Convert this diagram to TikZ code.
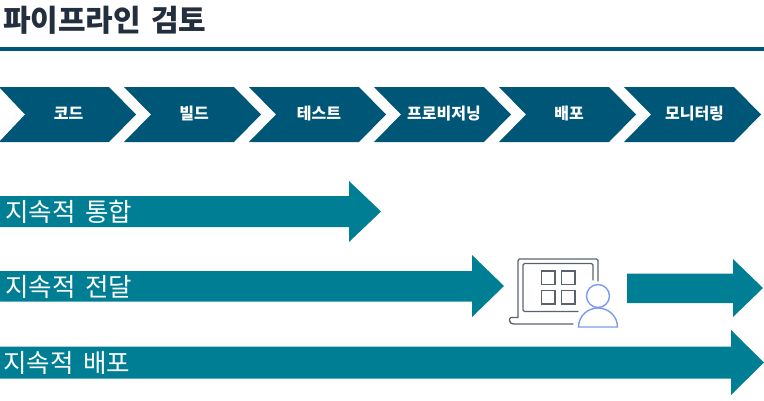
\documentclass[tikz,border=0pt]{standalone}
\usepackage{fontspec}
\setmainfont{Noto Sans CJK KR}
\definecolor{chev}{HTML}{005677}
\definecolor{teal}{HTML}{007F94}
\definecolor{ink}{HTML}{232F3E}
\definecolor{iconline}{HTML}{5A6270}
\definecolor{iconblue}{HTML}{7C9BF0}
\tikzset{x=1pt,y=-1pt,
 chevlabel/.style={text=white,font=\fontsize{16}{16}\selectfont\bfseries,anchor=center,inner sep=0pt},
 flowlabel/.style={text=white,font=\fontsize{25.5}{25.5}\selectfont,anchor=west,inner sep=0pt},
 iconstroke/.style={draw=iconline,line width=1.4pt,rounded corners=1.5pt,line cap=round},
 personstroke/.style={draw=iconblue,line width=1.4pt},
}
\begin{document}
\begin{tikzpicture}
\useasboundingbox (0,0) rectangle (764,400);
\node[anchor=base west,inner sep=0pt,text=ink,font=\fontsize{30}{30}\selectfont\bfseries] (title) at (3,31.5) {파이프라인\hspace{3pt} 검토};
\fill[chev] (0,47) rectangle (764,50.5);
% first chevron is cut by the left edge
\fill[chev] (-1,87) -- (109,87) -- (136,114.5) -- (109,142) -- (-1,142) -- (25,114.5) -- cycle;
\foreach \cx in {124,249,374,499,624}{
 \fill[chev] (\cx,87) -- (\cx+110,87) -- (\cx+137,114.5) -- (\cx+110,142) -- (\cx,142) -- (\cx+27,114.5) -- cycle;
}
\node[chevlabel] (c1) at (68.5,113.5) {코드};
\node[chevlabel] (c2) at (194,113.5) {빌드};
\node[chevlabel] (c3) at (319,113.5) {테스트};
\node[chevlabel] (c4) at (444,113.5) {프로비저닝};
\node[chevlabel] (c5) at (569,113.5) {배포};
\node[chevlabel] (c6) at (694.5,113.5) {모니터링};
% long arrows
\fill[teal] (0,196) -- (349,196) -- (349,181) -- (381,211.5) -- (349,242) -- (349,227) -- (0,227) -- cycle;
\fill[teal] (0,271) -- (472,271) -- (472,255) -- (504,286) -- (472,317) -- (472,301.5) -- (0,301.5) -- cycle;
\fill[teal] (0,346.5) -- (731,346.5) -- (731,330) -- (764,362.5) -- (731,395) -- (731,378.5) -- (0,378.5) -- cycle;
\fill[teal] (627,273.5) -- (733,273.5) -- (733,259) -- (763,288) -- (733,317) -- (733,303) -- (627,303) -- cycle;
\node[flowlabel] (l1) at (5,211.5) {지속적\hspace{4pt} 통합};
\node[flowlabel] (l2) at (5,286.5) {지속적\hspace{4pt} 전달};
\node[flowlabel] (l3) at (3,362.5) {지속적\hspace{4pt} 배포};
% laptop icon
\draw[iconstroke] (518,317) -- (518,259) -- (598,259) -- (598,281);
\draw[iconstroke] (593,280) -- (593,263.5) -- (523,263.5) -- (523,311.5) -- (578,311.5);
\draw[iconstroke] (573,324) -- (512,324) -- (509.5,322) -- (509.5,317.5) -- (518,317.5);
\foreach \sx in {541.5,561.5}{
 \foreach \sy in {271,290.5}{
  \draw[draw=iconline,line width=1.4pt] (\sx,\sy) rectangle (\sx+13.5,\sy+13.5);
 }
}
% person
\fill[white] (598,296) circle[radius=11.5];
\draw[personstroke] (598,296) circle[radius=11.5];
\draw[personstroke] (578.5,327) arc[start angle=180,end angle=360,x radius=19.5,y radius=19] -- cycle;
\end{tikzpicture}
\end{document}
